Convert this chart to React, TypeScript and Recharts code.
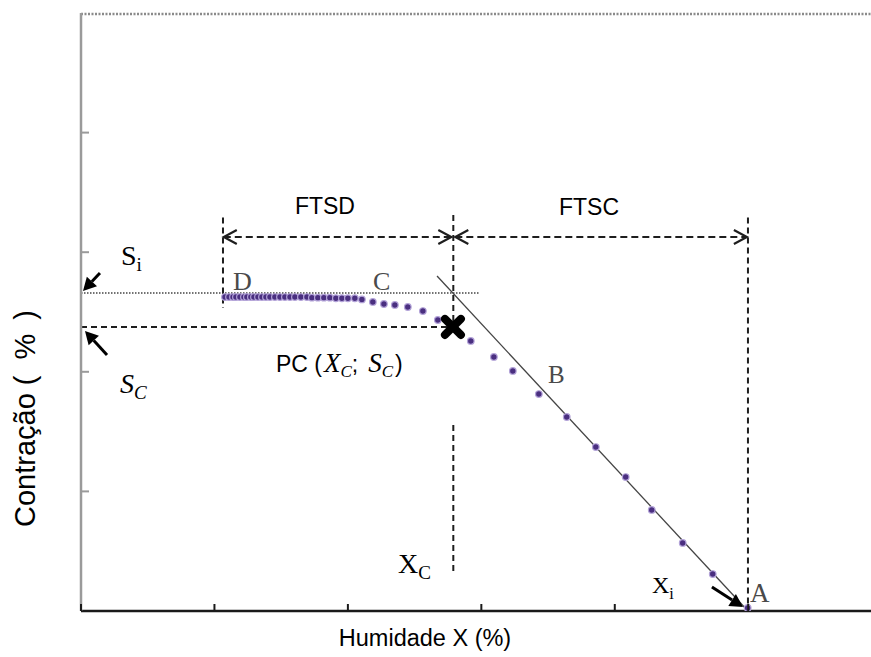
import React from 'react';
import { ScatterChart, Scatter, XAxis, YAxis, ReferenceLine, ReferenceDot } from 'recharts';

// drying curve points (humidade X, contração S)
const moisture = [
  1.079, 1.109, 1.139, 1.161, 1.191, 1.221, 1.243, 1.273, 1.296, 1.326,
  1.356, 1.386, 1.416, 1.453, 1.491, 1.528, 1.566, 1.603, 1.648, 1.693,
  1.73, 1.775, 1.82, 1.865, 1.91, 1.955, 2.0, 2.052, 2.105, 2.187,
  2.27, 2.352, 2.449, 2.562, 2.674, 2.921, 3.094, 3.236, 3.431, 3.64,
  3.858, 4.082, 4.277, 4.509, 4.734, 4.996,
];
const shrinkage = [
  2.625, 2.625, 2.625, 2.625, 2.625, 2.625, 2.625, 2.625, 2.625, 2.625,
  2.625, 2.625, 2.625, 2.625, 2.625, 2.625, 2.625, 2.625, 2.625, 2.625,
  2.62, 2.62, 2.62, 2.62, 2.615, 2.615, 2.615, 2.615, 2.605, 2.584,
  2.567, 2.559, 2.542, 2.508, 2.433, 2.258, 2.124, 2.007, 1.814, 1.622,
  1.371, 1.12, 0.845, 0.569, 0.309, 0.025,
];

// critical point PC (Xc; Sc)
const criticalX = [2.787];
const criticalY = [2.375];

const xTicks = [0, 1, 2, 3, 4, 5];
const yTicks = [1, 2, 3, 4];

// guide levels
const sInitial = 2.659;
const sCritical = 2.375;
const xCritical = 2.79;
const xStart = 1.064;
const xInitial = 4.998;
const spanY = 3.127;
const guideTop = 3.29;

const points = moisture.map((x, i) => ({ x, y: shrinkage[i] }));
const pcPoint = criticalX.map((x, i) => ({ x, y: criticalY[i] }));

const SANS = 'Liberation Sans, Arial, sans-serif';
const SERIF = 'Liberation Serif, Times New Roman, serif';
const INK = '#1e1e1e';

const Dot = (p: any) => (
  <circle cx={p.cx} cy={p.cy} r={3.3} fill="#4a2f80" stroke="#b3a3d8" strokeWidth={1.2} />
);

const Cross = (p: any) => {
  const { cx, cy } = p;
  const s = 8;
  return (
    <g stroke="#000" strokeWidth={8} strokeLinecap="round">
      <line x1={cx - s} y1={cy - s} x2={cx + s} y2={cy + s} />
      <line x1={cx - s} y1={cy + s} x2={cx + s} y2={cy - s} />
    </g>
  );
};

// inward tick marks
const xTick = (p: any) => (
  <line x1={p.x} y1={p.y} x2={p.x} y2={p.y - 7} stroke="#1a1a1a" strokeWidth={2} />
);
const yTick = (p: any) => (
  <line x1={p.x} y1={p.y} x2={p.x + 8} y2={p.y} stroke="#9a9a9a" strokeWidth={2} />
);

const dashed = (p: any) => (
  <line x1={p.x1} y1={p.y1} x2={p.x2} y2={p.y2} stroke={INK} strokeWidth={2} strokeDasharray="6 4" />
);

const dotted = (p: any) => (
  <line x1={p.x1} y1={p.y1} x2={p.x2} y2={p.y2} stroke="#444" strokeWidth={1.6} strokeDasharray="1.5 1.5" />
);

const span = (p: any) => {
  const { x1, y1, x2, y2 } = p;
  const h = 13;
  const w = 7;
  return (
    <g stroke={INK} strokeWidth={2.2} fill="none">
      <line x1={x1} y1={y1} x2={x2} y2={y2} strokeDasharray="7 4" />
      <polyline points={`${x1 + h},${y1 - w} ${x1},${y1} ${x1 + h},${y1 + w}`} />
      <polyline points={`${x2 - h},${y2 - w} ${x2},${y2} ${x2 - h},${y2 + w}`} />
    </g>
  );
};

const pointer = (p: any) => {
  const { x1, y1, x2, y2 } = p;
  const a = Math.atan2(y2 - y1, x2 - x1);
  const L = 13;
  const W = 7;
  const bx = x2 - L * Math.cos(a);
  const by = y2 - L * Math.sin(a);
  const nx = -Math.sin(a) * W;
  const ny = Math.cos(a) * W;
  return (
    <g>
      <line x1={x1} y1={y1} x2={bx} y2={by} stroke="#000" strokeWidth={3} />
      <polygon points={`${x2},${y2} ${bx + nx},${by + ny} ${bx - nx},${by - ny}`} fill="#000" />
    </g>
  );
};

const topBorder = (p: any) => (
  <line x1={p.x1} y1={p.y1 + 1} x2={p.x2} y2={p.y2 + 1} stroke="#8a8a8a" strokeWidth={2.5} strokeDasharray="2 1.5" />
);

const sansText = (text: string) => (p: any) => (
  <text x={p.cx} y={p.cy} textAnchor="middle" fontFamily={SANS} fontSize={23} fill="#000">
    {text}
  </text>
);

const letter = (text: string, size = 26) => (p: any) => (
  <text x={p.cx} y={p.cy} fontFamily={SERIF} fontSize={size} fill="#4a4a4a">
    {text}
  </text>
);

const symbol = (main: string, sub: string, italicMain: boolean, italicSub: boolean, size = 27) => (p: any) => (
  <text x={p.cx} y={p.cy} fontFamily={SERIF} fontSize={size} fill="#000">
    <tspan fontStyle={italicMain ? 'italic' : 'normal'}>{main}</tspan>
    <tspan fontSize={size * 0.68} dy={6} fontStyle={italicSub ? 'italic' : 'normal'}>{sub}</tspan>
  </text>
);

const pcLabel = (p: any) => (
  <text x={p.cx} y={p.cy} fontFamily={SANS} fontSize={23} fill="#000">
    PC (
    <tspan fontFamily={SERIF} fontStyle="italic" fontSize={27} dx={2}>X</tspan>
    <tspan fontFamily={SERIF} fontStyle="italic" fontSize={17} dy={5}>C</tspan>
    <tspan dy={-5}>;</tspan>
    <tspan fontFamily={SERIF} fontStyle="italic" fontSize={27} dx={10}>S</tspan>
    <tspan fontFamily={SERIF} fontStyle="italic" fontSize={17} dy={5}>C</tspan>
    <tspan dy={-5} dx={2}>)</tspan>
  </text>
);

const xTitle = (props: any) => {
  const vb = props.viewBox;
  return (
    <text x={vb.x + 344} y={vb.y + 35} textAnchor="middle" fontFamily={SANS} fontSize={23.5} fill="#000">
      Humidade X (%)
    </text>
  );
};

const yTitle = (props: any) => {
  const vb = props.viewBox;
  const x = vb.x + 35;
  const y = vb.y + 514;
  return (
    <text x={x} y={y} transform={`rotate(-90, ${x}, ${y})`} fontFamily={SANS} fontSize={29} fill="#000">
      Contração (<tspan dx={16}>%</tspan>
      <tspan dx={14}>)</tspan>
    </text>
  );
};

const labels = [
  { x: 1.828, y: 3.319, shape: sansText('FTSD') },
  { x: 3.807, y: 3.311, shape: sansText('FTSC') },
  { x: 1.139, y: 2.684, shape: letter('D') },
  { x: 2.188, y: 2.684, shape: letter('C') },
  { x: 3.5, y: 1.906, shape: letter('B', 25) },
  { x: 5.013, y: 0.075, shape: letter('A', 27) },
  { x: 0.3, y: 2.893, shape: symbol('S', 'i', false, false, 28) },
  { x: 0.292, y: 1.823, shape: symbol('S', 'C', true, true, 28) },
  { x: 2.375, y: 0.318, shape: symbol('X', 'C', false, false, 28) },
  { x: 4.279, y: 0.15, shape: symbol('X', 'i', false, false, 24) },
  { x: 1.461, y: 1.998, shape: pcLabel },
];

const App = () => {
  return (
    <div style={{ position: 'absolute', left: 0, top: 0, background: '#fff' }}>
      <ScatterChart width={871} height={657} margin={{ top: 13, right: 0, bottom: 0, left: 0 }}>
        <XAxis
          type="number"
          dataKey="x"
          domain={[0, 5.92]}
          ticks={xTicks}
          allowDataOverflow
          interval={0}
          height={46}
          tick={xTick}
          tickLine={false}
          tickSize={0}
          tickMargin={0}
          axisLine={{ stroke: '#1a1a1a', strokeWidth: 2.5 }}
          label={{ content: xTitle }}
        />
        <YAxis
          type="number"
          dataKey="y"
          domain={[0, 5]}
          ticks={yTicks}
          allowDataOverflow
          interval={0}
          width={81}
          tick={yTick}
          tickLine={false}
          tickSize={0}
          tickMargin={0}
          axisLine={{ stroke: '#9a9a9a', strokeWidth: 2.5 }}
          label={{ content: yTitle }}
        />
        <ReferenceLine y={5} shape={topBorder} />

        <ReferenceLine segment={[{ x: 0, y: sInitial }, { x: 2.99, y: sInitial }]} shape={dotted} />
        <ReferenceLine segment={[{ x: 0, y: sCritical }, { x: criticalX[0], y: sCritical }]} shape={dashed} />
        <ReferenceLine segment={[{ x: xStart, y: guideTop }, { x: xStart, y: 2.533 }]} shape={dashed} />
        <ReferenceLine segment={[{ x: xCritical, y: 3.31 }, { x: xCritical, y: sCritical }]} shape={dashed} />
        <ReferenceLine segment={[{ x: xCritical, y: 1.555 }, { x: xCritical, y: 0.301 }]} shape={dashed} />
        <ReferenceLine segment={[{ x: xInitial, y: guideTop }, { x: xInitial, y: 0 }]} shape={dashed} />
        <ReferenceLine segment={[{ x: 1.07, y: spanY }, { x: 2.775, y: spanY }]} shape={span} />
        <ReferenceLine segment={[{ x: 2.805, y: spanY }, { x: 4.99, y: spanY }]} shape={span} />
        <ReferenceLine
          segment={[{ x: 2.668, y: 2.801 }, { x: 4.998, y: 0 }]}
          stroke="#444"
          strokeWidth={1.3}
        />
        <ReferenceLine segment={[{ x: 0.142, y: 2.826 }, { x: 0.015, y: 2.676 }]} shape={pointer} />
        <ReferenceLine segment={[{ x: 0.195, y: 2.14 }, { x: 0.03, y: 2.341 }]} shape={pointer} />
        <ReferenceLine segment={[{ x: 4.728, y: 0.201 }, { x: 4.961, y: 0.033 }]} shape={pointer} />

        <Scatter data={points} shape={Dot} isAnimationActive={false} />
        <Scatter data={pcPoint} shape={Cross} isAnimationActive={false} />

        {labels.map((l, i) => (
          <ReferenceDot key={i} x={l.x} y={l.y} r={1} shape={l.shape} />
        ))}
      </ScatterChart>
    </div>
  );
};

export default App;
